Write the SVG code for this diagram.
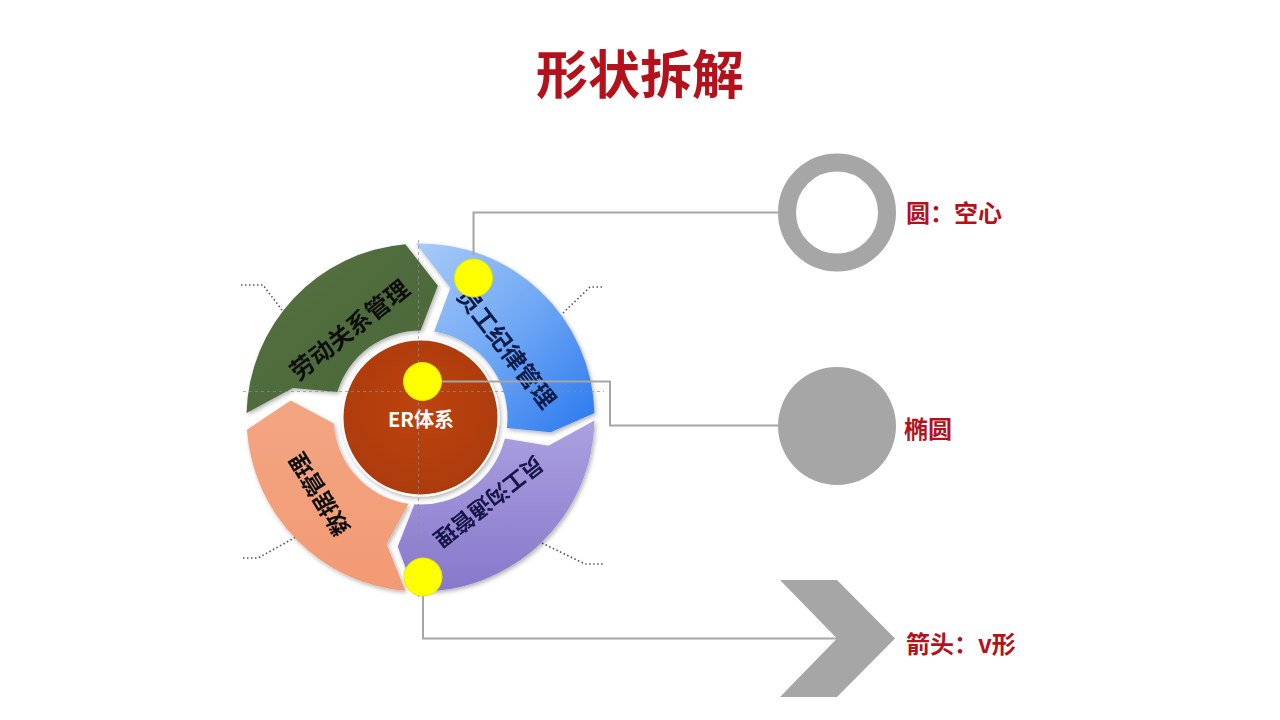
<svg xmlns="http://www.w3.org/2000/svg" width="1280" height="720" viewBox="0 0 1280 720">
<defs>
  <linearGradient id="gGreen" x1="0" y1="0" x2="1" y2="1">
    <stop offset="0" stop-color="#557142"/>
    <stop offset="1" stop-color="#4a6637"/>
  </linearGradient>
  <linearGradient id="gBlue" x1="0" y1="0" x2="1" y2="1">
    <stop offset="0" stop-color="#a9cbf8"/>
    <stop offset="0.5" stop-color="#6fa7f4"/>
    <stop offset="1" stop-color="#2a78ef"/>
  </linearGradient>
  <linearGradient id="gPurple" x1="0" y1="0" x2="0" y2="1">
    <stop offset="0" stop-color="#aba1e0"/>
    <stop offset="1" stop-color="#8877cb"/>
  </linearGradient>
  <linearGradient id="gSalmon" x1="0" y1="1" x2="0" y2="0">
    <stop offset="0" stop-color="#f29a74"/>
    <stop offset="1" stop-color="#f3a582"/>
  </linearGradient>
  <radialGradient id="gEr" cx="0.5" cy="0.45" r="0.6">
    <stop offset="0" stop-color="#bd4412"/>
    <stop offset="1" stop-color="#ab3a0c"/>
  </radialGradient>
  <filter id="sh" x="-15%" y="-15%" width="140%" height="140%">
    <feDropShadow dx="1.5" dy="2" stdDeviation="2" flood-color="#000" flood-opacity="0.3"/>
  </filter>
</defs>
<style>
  .seg { filter: url(#sh); }
  .lbl { font-family: "Noto Sans CJK SC", "Noto Sans", sans-serif; font-weight: 700; text-anchor: middle; dominant-baseline: central; }
  .red { fill: #b3121c; font-family: "Noto Sans CJK SC", "Noto Sans", sans-serif; font-weight: 700; }
  .conn { fill: none; stroke: #a6a6a6; stroke-width: 2; }
  .lead { fill: none; stroke: #555; stroke-width: 1.6; stroke-dasharray: 1.5 2.5; }
  .guide { fill: none; stroke: #8c8c8c; stroke-width: 1; stroke-dasharray: 3 3; opacity: 0.7; }
  .shape { fill: #a6a6a6; }
  .yel { fill: #ffff00; stroke: #e8e800; stroke-width: 1; }
</style>
<rect width="1280" height="720" fill="#ffffff"/>

<g id="title">
  <text class="red" x="640" y="94" font-size="52" text-anchor="middle">形状拆解</text>
</g>

<g id="leaders">
  <path class="lead" d="M241,285 H263 L282,310"/>
  <path class="lead" d="M563,313 L590,287 H604"/>
  <path class="lead" d="M243,558 H258 L296,537"/>
  <path class="lead" d="M542,543 L585,564 H604"/>
</g>

<g id="seg-green" class="seg">
  <path d="M246.56,412.94 A174,174 0 0 1 405.33,244.16 L437.86,285.64 L420.5,330.5 A87,87 0 0 0 337.3,392.06 L292.86,388.03 Z" fill="url(#gGreen)"/>
  <text class="lbl" transform="translate(348.5,328.5) rotate(-38.4)" font-size="24" fill="#111">劳动关系管理</text>
</g>
<g id="seg-blue" class="seg">
  <path d="M415.94,243.56 A174,174 0 0 1 594.44,412.94 L550.66,432.33 L506.85,428.1 A87,87 0 0 0 434.11,331.57 L450.42,287.9 Z" fill="url(#gBlue)"/>
  <text class="lbl" transform="translate(508,347) rotate(52.4)" font-size="24" fill="#0f1a48">员工纪律管理</text>
</g>
<g id="seg-purple" class="seg">
  <path d="M594.47,420.54 A174,174 0 0 1 414.43,591.39 L397.75,546.51 L414.43,504.29 A87,87 0 0 0 504.92,438.55 L548.4,445.85 Z" fill="url(#gPurple)"/>
  <text class="lbl" transform="translate(490,503) rotate(142)" font-size="22" fill="#15164a">员工沟通管理</text>
</g>
<g id="seg-salmon" class="seg">
  <path d="M405.33,590.84 A174,174 0 0 1 246.92,429.64 L290.62,400.4 L333.71,423.57 A87,87 0 0 0 408.39,503.65 L386.6,544.04 Z" fill="url(#gSalmon)"/>
  <text class="lbl" transform="translate(318,495) rotate(238.3)" font-size="23" fill="#111">数据管理</text>
</g>
<g id="er-core">
  <circle cx="420.5" cy="417.5" r="78" fill="url(#gEr)" stroke="#ffffff" stroke-width="2" filter="url(#sh)"/>
  <text class="lbl" x="421" y="418" font-size="20" fill="#ffffff">ER体系</text>
</g>

<g id="guides">
  <path class="guide" d="M243,391.5 H604"/>
  <path class="guide" d="M418.5,240 V600"/>
</g>

<g id="connectors">
  <path class="conn" d="M473.5,255 V212.5 H778"/>
  <path class="conn" d="M422.5,381.5 H610 V425.5 H778"/>
  <path class="conn" d="M423,577 V638.5 H837"/>
</g>

<g id="markers">
  <circle class="yel" cx="473.5" cy="278" r="19"/>
  <circle class="yel" cx="422.5" cy="381.5" r="19"/>
  <circle class="yel" cx="423" cy="577" r="19"/>
</g>

<g id="ring">
  <circle cx="837" cy="212.5" r="50" fill="none" stroke="#a6a6a6" stroke-width="18"/>
  <text class="red" x="906" y="222" font-size="24">圆：空心</text>
</g>
<g id="ellipse">
  <circle class="shape" cx="837" cy="426" r="59"/>
  <text class="red" x="904" y="438" font-size="24">椭圆</text>
</g>
<g id="chevron">
  <polygon class="shape" points="780,580 837,580 895,638.5 837,697 780,697 837,638.5"/>
  <text class="red" x="906" y="653" font-size="24">箭头：v形</text>
</g>
</svg>
